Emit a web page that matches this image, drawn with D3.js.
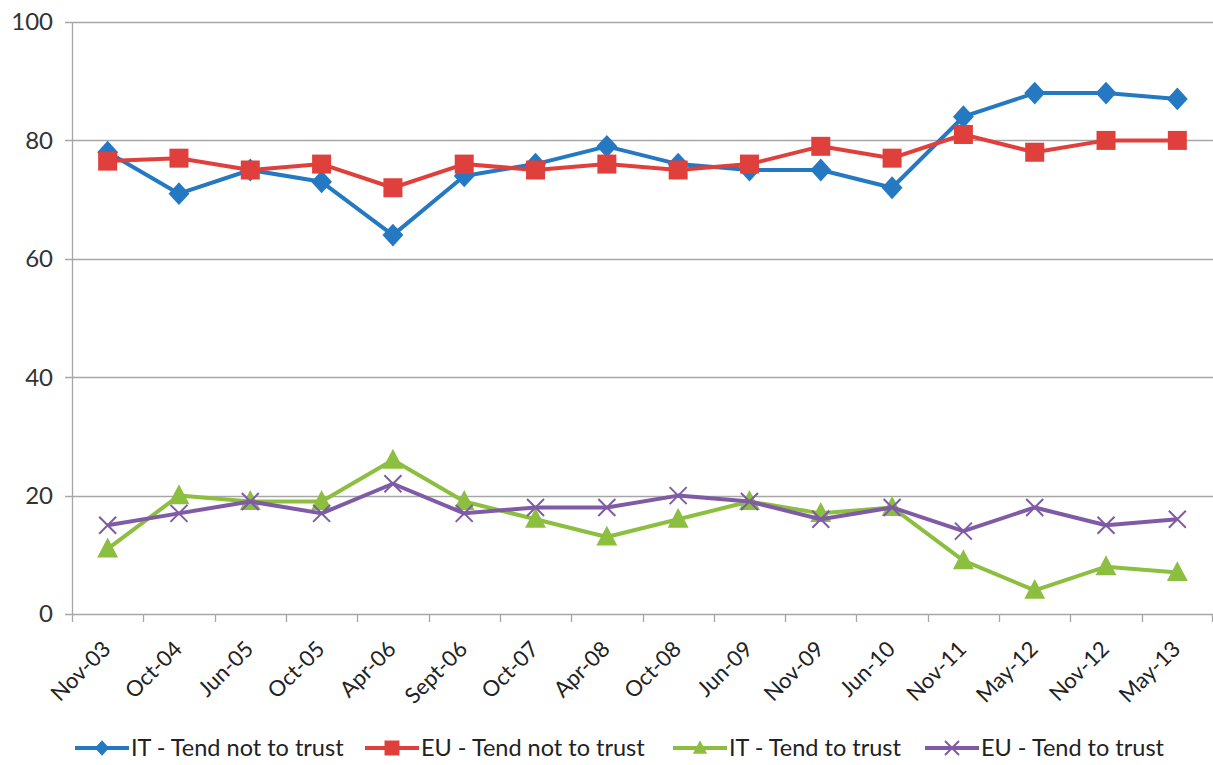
<!DOCTYPE html>
<html>
<head>
<meta charset="utf-8">
<script src="https://cdn.jsdelivr.net/npm/d3@7"></script>
<style>
  html, body { margin: 0; padding: 0; background: #fff; }
  svg { display: block; font-family: Lato, "Open Sans", sans-serif; }
</style>
</head>
<body>
<svg id="chart" width="1213" height="765"></svg>
<script>
const categories = ["Nov-03","Oct-04","Jun-05","Oct-05","Apr-06","Sept-06","Oct-07","Apr-08","Oct-08","Jun-09","Nov-09","Jun-10","Nov-11","May-12","Nov-12","May-13"];
const itNotTrust = [78, 71, 75, 73, 64, 74, 76, 79, 76, 75, 75, 72, 84, 88, 88, 87];
const euNotTrust = [76.5, 77, 75, 76, 72, 76, 75, 76, 75, 76, 79, 77, 81, 78, 80, 80];
const itTrust    = [11, 20, 19, 19, 26, 19, 16, 13, 16, 19, 17, 18, 9, 4, 8, 7];
const euTrust    = [15, 17, 19, 17, 22, 17, 18, 18, 20, 19, 16, 18, 14, 18, 15, 16];
const seriesNames = ["IT - Tend not to trust", "EU - Tend not to trust", "IT - Tend to trust", "EU - Tend to trust"];
const yTicks = [0, 20, 40, 60, 80, 100];

const series = [
  {name: seriesNames[0], values: itNotTrust, color: "#2479c2", marker: "diamond"},
  {name: seriesNames[1], values: euNotTrust, color: "#e0403c", marker: "square"},
  {name: seriesNames[2], values: itTrust,    color: "#8cbf3f", marker: "triangle"},
  {name: seriesNames[3], values: euTrust,    color: "#7f5ba6", marker: "cross"}
];

const svg = d3.select("#chart");
const m = {left: 72, right: 1213, top: 22, bottom: 614};

const x = d3.scaleBand().domain(categories).range([m.left, m.right]);
const y = d3.scaleLinear().domain([0, 100]).range([m.bottom, m.top]);

// gridlines
svg.append("g").selectAll("line").data(yTicks).join("line")
  .attr("x1", m.left - 7).attr("x2", m.right)
  .attr("y1", d => Math.round(y(d)) + 0.5).attr("y2", d => Math.round(y(d)) + 0.5)
  .attr("stroke", "#a6a6a6").attr("stroke-width", 1.3);

// y axis line
svg.append("line").attr("x1", m.left + 0.5).attr("x2", m.left + 0.5)
  .attr("y1", y(100)).attr("y2", y(0)).attr("stroke", "#a6a6a6").attr("stroke-width", 1.3);

// y labels
svg.append("g").selectAll("text").data(yTicks).join("text")
  .attr("x", 53).attr("y", d => y(d)).attr("dy", "0.35em")
  .attr("text-anchor", "end").attr("font-size", 24).attr("fill", "#333")
  .text(d => d);

// x ticks at band boundaries
const bounds = categories.map(c => x(c)).concat([m.right - 1]);
svg.append("g").selectAll("line").data(bounds).join("line")
  .attr("x1", d => Math.round(d) + 0.5).attr("x2", d => Math.round(d) + 0.5)
  .attr("y1", y(0)).attr("y2", y(0) + 8)
  .attr("stroke", "#a6a6a6").attr("stroke-width", 1.3);

// x labels
svg.append("g").selectAll("text").data(categories).join("text")
  .attr("transform", d => `translate(${x(d) + x.bandwidth() / 2 - 1},${y(0) + 31}) rotate(-45)`)
  .attr("text-anchor", "end").attr("dy", "0.35em")
  .attr("font-size", 22).attr("fill", "#222")
  .text(d => d);

function drawMarker(g, type, color, size) {
  const s = size;
  if (type === "diamond") {
    g.append("path").attr("d", `M0,${-s*0.6}L${s*0.55},0L0,${s*0.6}L${-s*0.55},0Z`).attr("fill", color);
  } else if (type === "square") {
    g.append("rect").attr("x", -s/2).attr("y", -s/2).attr("width", s).attr("height", s).attr("fill", color);
  } else if (type === "triangle") {
    g.append("path").attr("d", `M0,${-s*0.6}L${s*0.55},${s*0.45}L${-s*0.55},${s*0.45}Z`).attr("fill", color);
  } else if (type === "cross") {
    g.append("path").attr("d", `M${-s/2},${-s/2}L${s/2},${s/2}M${s/2},${-s/2}L${-s/2},${s/2}`)
      .attr("stroke", color).attr("stroke-width", 2).attr("fill", "none");
  }
}

const line = d3.line().x((d, i) => x(categories[i]) + x.bandwidth() / 2).y(d => y(d));

series.forEach(s => {
  const g = svg.append("g");
  g.append("path").datum(s.values).attr("d", line)
    .attr("fill", "none").attr("stroke", s.color).attr("stroke-width", 4).attr("stroke-linejoin", "round");
  s.values.forEach((v, i) => {
    const mg = g.append("g").attr("transform", `translate(${x(categories[i]) + x.bandwidth() / 2},${y(v)})`);
    drawMarker(mg, s.marker, s.color, s.marker === "cross" ? 17 : 19);
  });
});

// legend
const legendX = [75, 365, 673, 925];
const ly = 748;
series.forEach((s, i) => {
  const g = svg.append("g").attr("transform", `translate(${legendX[i]},${ly})`);
  g.append("line").attr("x1", 0).attr("x2", 54).attr("y1", 0).attr("y2", 0)
    .attr("stroke", s.color).attr("stroke-width", 4);
  const mg = g.append("g").attr("transform", "translate(27,0)");
  drawMarker(mg, s.marker, s.color, s.marker === "cross" ? 14 : (s.marker === "square" ? 15 : 13));
  g.append("text").attr("x", 56).attr("y", 0).attr("dy", "0.35em")
    .attr("font-size", 23.5).attr("fill", "#222").text(s.name);
});
</script>
</body>
</html>
